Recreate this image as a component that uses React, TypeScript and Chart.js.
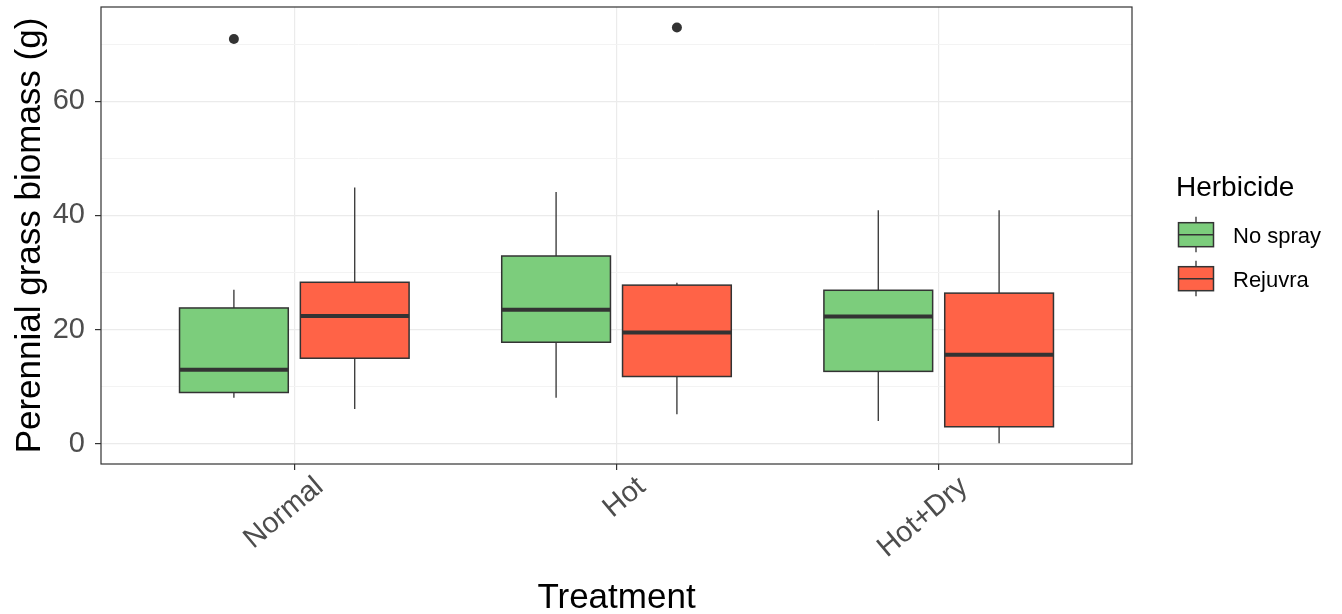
import React, { useEffect, useRef } from 'react';
import { Chart, registerables } from 'chart.js';

Chart.register(...registerables);

// ---------------- data ----------------
const categories = ['Normal', 'Hot', 'Hot+Dry'];
const herbicides = ['No spray', 'Rejuvra'];
const herbicideColors = ['#7CCD7C', '#FF6347'];

const noSprayLower = [8.1, 8.1, 4.0];
const noSprayQ1 = [9.0, 17.8, 12.7];
const noSprayMedian = [13.0, 23.5, 22.3];
const noSprayQ3 = [23.8, 32.9, 26.9];
const noSprayUpper = [27.0, 44.1, 40.9];
const noSprayOutliers = [[70.9], [], []];

const rejuvraLower = [6.1, 5.2, 0.1];
const rejuvraQ1 = [15.0, 11.8, 3.0];
const rejuvraMedian = [22.4, 19.5, 15.6];
const rejuvraQ3 = [28.3, 27.8, 26.4];
const rejuvraUpper = [44.9, 28.2, 40.9];
const rejuvraOutliers = [[], [72.9], []];

const yMajorTicks = [0, 20, 40, 60];
const yMinorTicks = [10, 30, 50, 70];

const xTitle = 'Treatment';
const yTitle = 'Perennial grass biomass (g)';
const legendTitle = 'Herbicide';

// ---------------- style ----------------
const FONT = "'Liberation Sans', Arial, Helvetica, sans-serif";
const DODGE = [-0.1875, 0.1875];
const HALF_W = 0.16875;
const INK = '#333333';

const series = [
  { lower: noSprayLower, q1: noSprayQ1, med: noSprayMedian, q3: noSprayQ3, upper: noSprayUpper, out: noSprayOutliers },
  { lower: rejuvraLower, q1: rejuvraQ1, med: rejuvraMedian, q3: rejuvraQ3, upper: rejuvraUpper, out: rejuvraOutliers },
];

const boxPlugin = {
  id: 'ggBoxplot',
  beforeDatasetsDraw(chart: any) {
    const { ctx, scales } = chart;
    const x = scales.x;
    const y = scales.y;
    ctx.save();
    series.forEach((s, g) => {
      categories.forEach((_, i) => {
        const c = i + DODGE[g];
        const xl = x.getPixelForValue(c - HALF_W);
        const xr = x.getPixelForValue(c + HALF_W);
        const xc = x.getPixelForValue(c);
        const pLo = y.getPixelForValue(s.lower[i]);
        const pQ1 = y.getPixelForValue(s.q1[i]);
        const pMed = y.getPixelForValue(s.med[i]);
        const pQ3 = y.getPixelForValue(s.q3[i]);
        const pHi = y.getPixelForValue(s.upper[i]);
        ctx.strokeStyle = INK;
        ctx.lineWidth = 1.3;
        ctx.beginPath();
        ctx.moveTo(xc, pHi);
        ctx.lineTo(xc, pQ3);
        ctx.moveTo(xc, pQ1);
        ctx.lineTo(xc, pLo);
        ctx.stroke();
        ctx.fillStyle = herbicideColors[g];
        ctx.fillRect(xl, pQ3, xr - xl, pQ1 - pQ3);
        ctx.lineWidth = 1.5;
        ctx.strokeRect(xl, pQ3, xr - xl, pQ1 - pQ3);
        ctx.lineWidth = 4;
        ctx.beginPath();
        ctx.moveTo(xl, pMed);
        ctx.lineTo(xr, pMed);
        ctx.stroke();
      });
    });
    ctx.restore();
  },
  afterDraw(chart: any) {
    const { ctx, chartArea, scales } = chart;
    const x = scales.x;
    ctx.save();
    // panel border
    ctx.strokeStyle = INK;
    ctx.lineWidth = 1.2;
    ctx.strokeRect(chartArea.left, chartArea.top, chartArea.right - chartArea.left, chartArea.bottom - chartArea.top);

    // x tick labels (rotated)
    ctx.fillStyle = '#4D4D4D';
    ctx.font = `29px ${FONT}`;
    ctx.textAlign = 'right';
    ctx.textBaseline = 'top';
    categories.forEach((lab, i) => {
      const px = x.getPixelForValue(i);
      ctx.save();
      ctx.translate(px + 16, chartArea.bottom + 8);
      ctx.rotate((-40 * Math.PI) / 180);
      ctx.fillText(lab, 0, 0);
      ctx.restore();
    });

    // axis titles
    ctx.fillStyle = '#000000';
    ctx.font = `35px ${FONT}`;
    ctx.textAlign = 'center';
    ctx.textBaseline = 'alphabetic';
    ctx.fillText(xTitle, (chartArea.left + chartArea.right) / 2, 608);
    ctx.save();
    ctx.translate(40, (chartArea.top + chartArea.bottom) / 2);
    ctx.rotate(-Math.PI / 2);
    ctx.fillText(yTitle, 0, 0);
    ctx.restore();

    // legend
    ctx.textAlign = 'left';
    ctx.font = `28px ${FONT}`;
    ctx.fillText(legendTitle, 1176, 196);
    const keyL = 1178.5;
    const keyW = 35;
    const keyTops = [222.7, 266.7];
    ctx.font = `22px ${FONT}`;
    herbicides.forEach((name, g) => {
      const top = keyTops[g];
      const h = 24;
      const cx = keyL + keyW / 2;
      ctx.strokeStyle = INK;
      ctx.lineWidth = 1.3;
      ctx.beginPath();
      ctx.moveTo(cx, top - 6);
      ctx.lineTo(cx, top);
      ctx.moveTo(cx, top + h);
      ctx.lineTo(cx, top + h + 5.5);
      ctx.stroke();
      ctx.fillStyle = herbicideColors[g];
      ctx.fillRect(keyL, top, keyW, h);
      ctx.lineWidth = 1.5;
      ctx.strokeRect(keyL, top, keyW, h);
      ctx.lineWidth = 1.6;
      ctx.beginPath();
      ctx.moveTo(keyL, top + h / 2);
      ctx.lineTo(keyL + keyW, top + h / 2);
      ctx.stroke();
      ctx.fillStyle = '#000000';
      ctx.fillText(name, 1233, top + 20.6);
    });
    ctx.restore();
  },
};

export default function App() {
  const canvasRef = useRef<HTMLCanvasElement | null>(null);

  useEffect(() => {
    const canvas = canvasRef.current;
    if (!canvas) return;
    const outlierData = series.map((s, g) =>
      s.out.flatMap((vals, i) => vals.map((v) => ({ x: i + DODGE[g], y: v })))
    );
    const chart = new Chart(canvas, {
      type: 'scatter',
      data: {
        datasets: herbicides.map((name, g) => ({
          label: name,
          data: outlierData[g],
          pointRadius: 5,
          pointHoverRadius: 5,
          backgroundColor: INK,
          borderWidth: 0,
        })),
      },
      options: {
        responsive: false,
        animation: false,
        layout: { padding: { left: 0, top: 7, right: 210, bottom: 0 } },
        plugins: {
          legend: { display: false },
          tooltip: { enabled: false },
        },
        scales: {
          x: {
            type: 'linear',
            min: -0.6,
            max: 2.6,
            afterBuildTicks: (scale: any) => {
              scale.ticks = categories.map((_, i) => ({ value: i }));
            },
            afterFit: (scale: any) => {
              scale.height = 150;
              scale.paddingLeft = 0;
              scale.paddingRight = 0;
            },
            ticks: { display: false },
            border: { display: false },
            grid: {
              color: '#EBEBEB',
              lineWidth: 1.2,
              tickColor: INK,
              tickLength: 6,
              tickWidth: 1.2,
            },
          },
          y: {
            type: 'linear',
            min: -3.52,
            max: 76.5,
            afterBuildTicks: (scale: any) => {
              scale.ticks = [...yMajorTicks, ...yMinorTicks].sort((a, b) => a - b).map((v) => ({ value: v }));
            },
            afterFit: (scale: any) => {
              scale.width = 101;
              scale.paddingTop = 0;
              scale.paddingBottom = 0;
            },
            ticks: {
              padding: 10,
              color: '#4D4D4D',
              font: { family: FONT, size: 29 },
              callback: (v: any) => (yMajorTicks.includes(Number(v)) ? String(v) : ''),
            },
            border: { display: false },
            grid: {
              color: (c: any) => (c.tick && yMajorTicks.includes(c.tick.value) ? '#EBEBEB' : '#F3F3F3'),
              lineWidth: (c: any) => (c.tick && yMajorTicks.includes(c.tick.value) ? 1.2 : 1),
              tickColor: (c: any) => (c.tick && yMajorTicks.includes(c.tick.value) ? INK : 'rgba(0,0,0,0)'),
              tickLength: 6,
              tickWidth: 1.2,
            },
          },
        },
      },
      plugins: [boxPlugin],
    });
    return () => chart.destroy();
  }, []);

  return (
    <div style={{ position: 'absolute', left: 0, top: 0, width: 1342, height: 614, background: '#FFFFFF' }}>
      <canvas ref={canvasRef} width={1342} height={614} style={{ display: 'block' }} />
    </div>
  );
}
